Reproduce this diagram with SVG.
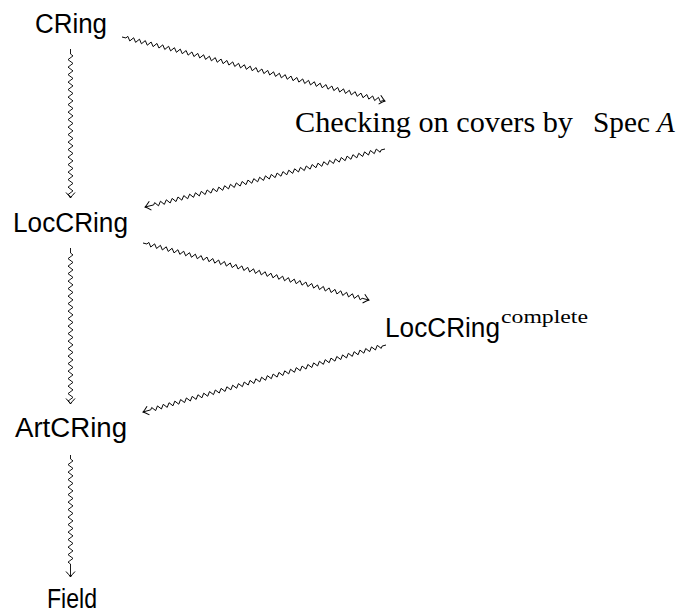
<svg xmlns="http://www.w3.org/2000/svg" width="681" height="615" viewBox="0 0 681 615">
<style>
.sans{font-family:"Liberation Sans","DejaVu Sans",sans-serif;font-size:27px;fill:#000}
.serif{font-family:"Liberation Serif","DejaVu Serif",serif;font-size:29px;fill:#000}
.sup{font-family:"Liberation Serif","DejaVu Serif",serif;font-size:19px;fill:#000}
.zz{fill:none;stroke:#000;stroke-width:0.9;stroke-linejoin:miter}
</style>
<defs>
<marker id="to" markerUnits="userSpaceOnUse" markerWidth="14" markerHeight="14" viewBox="-7 -7 14 14" refX="0" refY="0" orient="auto">
<path d="M-5.5,-4.5 Q-1.8,-1 0,0 Q-1.8,1 -5.5,4.5" fill="none" stroke="#000" stroke-width="1"/>
</marker>
</defs>
<rect width="681" height="615" fill="#fff"/>
<g id="connectors">
<path class="zz" marker-end="url(#to)" transform="translate(70.5,49) rotate(90)" d="M0,0 h5 l1.875,-2.5 3.75,5 3.75,-5 3.75,5 3.75,-5 3.75,5 3.75,-5 3.75,5 3.75,-5 3.75,5 3.75,-5 3.75,5 3.75,-5 3.75,5 3.75,-5 3.75,5 3.75,-5 3.75,5 3.75,-5 3.75,5 3.75,-5 3.75,5 3.75,-5 3.75,5 3.75,-5 3.75,5 3.75,-5 3.75,5 3.75,-5 3.75,5 3.75,-5 3.75,5 3.75,-5 3.75,5 3.75,-5 3.75,5 3.75,-5 3.75,5 1.875,-2.5 L149,0"/>
<path class="zz" marker-end="url(#to)" transform="translate(70.5,248) rotate(90)" d="M0,0 h5 l1.875,-2.5 3.75,5 3.75,-5 3.75,5 3.75,-5 3.75,5 3.75,-5 3.75,5 3.75,-5 3.75,5 3.75,-5 3.75,5 3.75,-5 3.75,5 3.75,-5 3.75,5 3.75,-5 3.75,5 3.75,-5 3.75,5 3.75,-5 3.75,5 3.75,-5 3.75,5 3.75,-5 3.75,5 3.75,-5 3.75,5 3.75,-5 3.75,5 3.75,-5 3.75,5 3.75,-5 3.75,5 3.75,-5 3.75,5 3.75,-5 3.75,5 3.75,-5 3.75,5 1.875,-2.5 L156,0"/>
<path class="zz" marker-end="url(#to)" transform="translate(70.5,455) rotate(90)" d="M0,0 h4 l1.875,-2.5 3.75,5 3.75,-5 3.75,5 3.75,-5 3.75,5 3.75,-5 3.75,5 3.75,-5 3.75,5 3.75,-5 3.75,5 3.75,-5 3.75,5 3.75,-5 3.75,5 3.75,-5 3.75,5 3.75,-5 3.75,5 3.75,-5 3.75,5 3.75,-5 3.75,5 3.75,-5 3.75,5 3.75,-5 3.75,5 1.875,-2.5 L122,0"/>
<path class="zz" marker-end="url(#to)" transform="translate(122,37) rotate(13.68)" d="M0,0 h4 l1.5,-2 3,4 3,-4 3,4 3,-4 3,4 3,-4 3,4 3,-4 3,4 3,-4 3,4 3,-4 3,4 3,-4 3,4 3,-4 3,4 3,-4 3,4 3,-4 3,4 3,-4 3,4 3,-4 3,4 3,-4 3,4 3,-4 3,4 3,-4 3,4 3,-4 3,4 3,-4 3,4 3,-4 3,4 3,-4 3,4 3,-4 3,4 3,-4 3,4 3,-4 3,4 3,-4 3,4 3,-4 3,4 3,-4 3,4 3,-4 3,4 3,-4 3,4 3,-4 3,4 3,-4 3,4 3,-4 3,4 3,-4 3,4 3,-4 3,4 3,-4 3,4 3,-4 3,4 3,-4 3,4 3,-4 3,4 3,-4 3,4 3,-4 3,4 3,-4 3,4 3,-4 3,4 3,-4 3,4 3,-4 3,4 3,-4 3,4 1.5,-2 L270.7,0"/>
<path class="zz" marker-end="url(#to)" transform="translate(385,149) rotate(166.41)" d="M0,0 h4 l1.5,-2 3,4 3,-4 3,4 3,-4 3,4 3,-4 3,4 3,-4 3,4 3,-4 3,4 3,-4 3,4 3,-4 3,4 3,-4 3,4 3,-4 3,4 3,-4 3,4 3,-4 3,4 3,-4 3,4 3,-4 3,4 3,-4 3,4 3,-4 3,4 3,-4 3,4 3,-4 3,4 3,-4 3,4 3,-4 3,4 3,-4 3,4 3,-4 3,4 3,-4 3,4 3,-4 3,4 3,-4 3,4 3,-4 3,4 3,-4 3,4 3,-4 3,4 3,-4 3,4 3,-4 3,4 3,-4 3,4 3,-4 3,4 3,-4 3,4 3,-4 3,4 3,-4 3,4 3,-4 3,4 3,-4 3,4 3,-4 3,4 3,-4 3,4 1.5,-2 L246.9,0"/>
<path class="zz" marker-end="url(#to)" transform="translate(143,243) rotate(14.16)" d="M0,0 h4 l1.5,-2 3,4 3,-4 3,4 3,-4 3,4 3,-4 3,4 3,-4 3,4 3,-4 3,4 3,-4 3,4 3,-4 3,4 3,-4 3,4 3,-4 3,4 3,-4 3,4 3,-4 3,4 3,-4 3,4 3,-4 3,4 3,-4 3,4 3,-4 3,4 3,-4 3,4 3,-4 3,4 3,-4 3,4 3,-4 3,4 3,-4 3,4 3,-4 3,4 3,-4 3,4 3,-4 3,4 3,-4 3,4 3,-4 3,4 3,-4 3,4 3,-4 3,4 3,-4 3,4 3,-4 3,4 3,-4 3,4 3,-4 3,4 3,-4 3,4 3,-4 3,4 3,-4 3,4 3,-4 3,4 3,-4 3,4 1.5,-2 L233.1,0"/>
<path class="zz" marker-end="url(#to)" transform="translate(386,345) rotate(164.59)" d="M0,0 h4 l1.5,-2 3,4 3,-4 3,4 3,-4 3,4 3,-4 3,4 3,-4 3,4 3,-4 3,4 3,-4 3,4 3,-4 3,4 3,-4 3,4 3,-4 3,4 3,-4 3,4 3,-4 3,4 3,-4 3,4 3,-4 3,4 3,-4 3,4 3,-4 3,4 3,-4 3,4 3,-4 3,4 3,-4 3,4 3,-4 3,4 3,-4 3,4 3,-4 3,4 3,-4 3,4 3,-4 3,4 3,-4 3,4 3,-4 3,4 3,-4 3,4 3,-4 3,4 3,-4 3,4 3,-4 3,4 3,-4 3,4 3,-4 3,4 3,-4 3,4 3,-4 3,4 3,-4 3,4 3,-4 3,4 3,-4 3,4 3,-4 3,4 3,-4 3,4 3,-4 3,4 1.5,-2 L252.1,0"/>
</g>
<g id="cring"><text class="sans" x="35" y="33" textLength="72" lengthAdjust="spacingAndGlyphs">CRing</text></g>
<g id="checking">
<text class="serif" x="295" y="132" textLength="278" lengthAdjust="spacingAndGlyphs">Checking on covers by</text>
<text class="serif" x="593" y="132" textLength="57" lengthAdjust="spacingAndGlyphs">Spec</text>
<text class="serif" x="657" y="132" font-style="italic">A</text>
</g>
<g id="loccring"><text class="sans" x="13" y="232" textLength="115" lengthAdjust="spacingAndGlyphs">LocCRing</text></g>
<g id="loccring-complete">
<text class="sans" x="385" y="337" textLength="115" lengthAdjust="spacingAndGlyphs">LocCRing</text>
<text class="sup" x="501" y="323" textLength="87" lengthAdjust="spacingAndGlyphs">complete</text>
</g>
<g id="artcring"><text class="sans" x="15" y="437" textLength="112" lengthAdjust="spacingAndGlyphs">ArtCRing</text></g>
<g id="field"><text class="sans" x="47" y="608" textLength="50" lengthAdjust="spacingAndGlyphs">Field</text></g>
</svg>
